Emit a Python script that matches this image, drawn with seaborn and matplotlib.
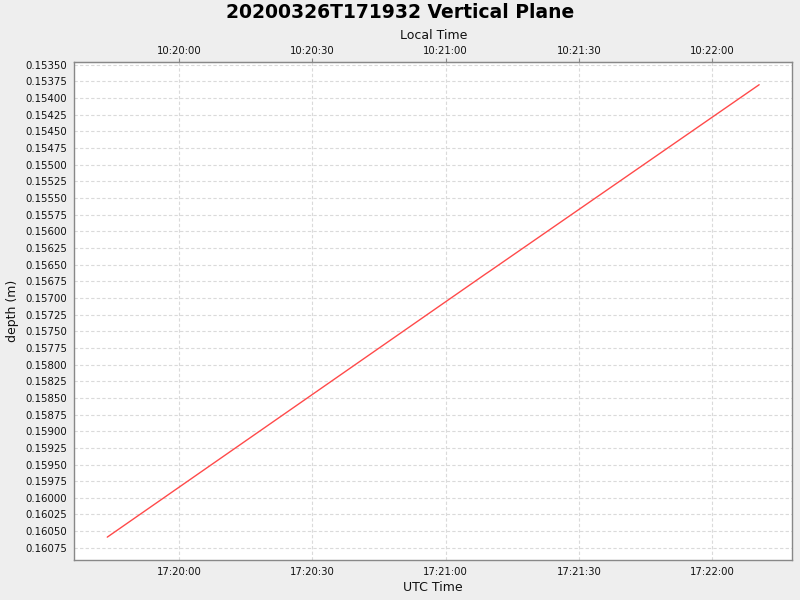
import numpy as np
import pandas as pd
import matplotlib
matplotlib.use("Agg")
import matplotlib.pyplot as plt
import matplotlib.dates as mdates
import seaborn as sns

# Data
utc_times = ["2020-03-26 17:19:43.8", "2020-03-26 17:21:09.0", "2020-03-26 17:21:10.0", "2020-03-26 17:22:10.6"]
depths = [0.16059, 0.15664, 0.156595, 0.15380]
local_offset_hours = -7
y_ticks = [0.15350 + 0.00025 * i for i in range(30)]
x_tick_times = ["2020-03-26 17:20:00", "2020-03-26 17:20:30", "2020-03-26 17:21:00",
                "2020-03-26 17:21:30", "2020-03-26 17:22:00"]

df = pd.DataFrame({"utc": pd.to_datetime(utc_times), "depth": depths})

sns.set_style("white")
plt.rcParams["font.family"] = ["DejaVu Sans"]

fig = plt.figure(figsize=(8, 6), dpi=100, facecolor="#eeeeee")
ax = fig.add_axes([0.093, 0.067, 0.897, 0.829])
ax.set_facecolor("white")

sns.lineplot(data=df, x="utc", y="depth", ax=ax, color="#ff4a4a", linewidth=1.0, estimator=None, sort=False)

xmin = pd.Timestamp("2020-03-26 17:19:36.4")
xmax = pd.Timestamp("2020-03-26 17:22:18.0")
ax.set_xlim(xmin, xmax)
ax.set_ylim(0.16093, 0.153465)

ax.set_yticks(y_ticks)
ax.set_yticklabels([f"{v:.5f}" for v in y_ticks])
ax.set_xticks(pd.to_datetime(x_tick_times))
ax.xaxis.set_major_formatter(mdates.DateFormatter("%H:%M:%S"))

ax.grid(True, color="#dadada", linestyle=(0, (3, 2)), linewidth=0.8)
for s in ax.spines.values():
    s.set_color("#888888")
    s.set_linewidth(1.0)
ax.tick_params(axis="both", direction="out", length=3, width=0.8, color="#888888",
               labelsize=7.3, labelcolor="#111111", pad=2)
ax.set_xlabel("UTC Time", fontsize=9, color="#111111", labelpad=3)
ax.set_ylabel("depth (m)", fontsize=9, color="#111111", labelpad=5)

off = local_offset_hours / 24.0
sec = ax.secondary_xaxis("top", functions=(lambda x: x + off, lambda x: x - off))
sec.set_xticks([mdates.date2num(t) + off for t in pd.to_datetime(x_tick_times)])
sec.xaxis.set_major_formatter(mdates.DateFormatter("%H:%M:%S"))
sec.tick_params(axis="x", direction="out", length=3, width=0.8, color="#888888",
                labelsize=7.3, labelcolor="#111111", pad=1.5)
sec.spines["top"].set_color("#888888")
sec.set_xlabel("Local Time", fontsize=9, color="#111111", labelpad=5)

fig.suptitle("20200326T171932 Vertical Plane", fontsize=13.5, fontweight="bold", color="black", y=0.995)

fig.savefig("out.png", dpi=100, facecolor=fig.get_facecolor())
